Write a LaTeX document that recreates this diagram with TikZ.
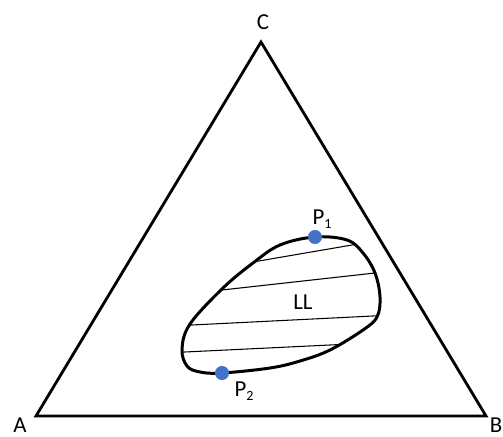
\documentclass[tikz,border=0pt]{standalone}
\usepackage{fontspec}
\setmainfont{Carlito}
\usepackage{xcolor}
\usetikzlibrary{positioning,calc}
\definecolor{dotblue}{HTML}{4472C4}

\begin{document}
\begin{tikzpicture}[
    x=0.02cm, y=0.02cm,
    edge/.style={line width=1.6pt, line join=miter},
    loopline/.style={line width=1.7pt},
    tieline/.style={line width=0.6pt, shorten <=-15, shorten >=-15},
    lbl/.style={font=\fontsize{13}{15}\selectfont, inner sep=1pt},
    pt/.style={circle, fill=dotblue, inner sep=0pt, minimum size=8}
]
    \useasboundingbox (0,0) rectangle (503,436);

    % triangle corners
    \coordinate (A) at (36,20);
    \coordinate (B) at (486,20);
    \coordinate (C) at (261,394);
    \draw[edge] (A) -- (B) -- (C) -- cycle;

    \node[lbl] (labA) at (20,11) {A};
    \node[lbl] (labB) at (496,11) {B};
    \node[lbl] (labC) at (263,414) {C};

    % two-phase region
    \def\lloop{plot[smooth cycle, tension=0.6] coordinates {(315,199) (347,196) (363,183) (375,163) (380,139)
        (377,119) (363,106) (330,86) (300,75) (270,68) (222,63) (200,64) (187,70) (182,87) (190,112)
        (223,148) (253,173) (280,191)}}
    \begin{scope}
        \clip \lloop;
        \draw[tieline] (253,174) -- (352,191);
        \draw[tieline] (222,146) -- (375,163);
        \draw[tieline] (192,111) -- (373,120);
        \draw[tieline] (185,84) -- (330,91);
    \end{scope}
    \draw[loopline] \lloop;

    \node[lbl] (LL) at (303,134) {LL};

    \node[pt] (P1) at (315,199) {};
    \node[pt] (P2) at (222,63) {};
    \node[lbl] (labP1) at (322,217) {P\raisebox{-2pt}{\footnotesize 1}};
    \node[lbl] (labP2) at (244,45) {P\raisebox{-2pt}{\footnotesize 2}};
\end{tikzpicture}
\end{document}
